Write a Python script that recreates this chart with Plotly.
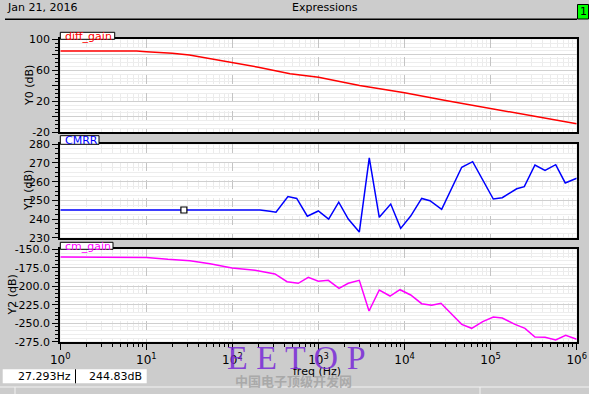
import plotly.graph_objects as go

W, H = 589, 394

# ---------------- data ----------------
diff_freq = [1, 5, 7.7, 10, 20, 31.6, 50, 100, 200, 467, 1000, 3000, 10000, 30000, 100000, 300000, 1000000]
diff_gain = [85, 85, 85, 84, 82, 79.7, 76, 70, 64, 55.6, 51, 40.5, 31, 21, 11, 1.5, -9]

cmrr_freq = [1, 10, 100, 208.9, 272.9, 320.6, 441.6, 558.5, 741.3, 995.4, 1312, 1718, 2218, 2979,
             3890, 5082, 6902, 9016, 11776, 15812, 19724, 26977, 46132, 61802, 107400, 136458,
             200909, 246037, 327341, 428549, 570164, 736207, 1000000]
cmrr = [244.83, 244.83, 244.83, 244.83, 244.2, 243.6, 252, 251, 241.5, 244.3, 239.9, 249, 240, 233,
        272.7, 240.9, 248, 235, 241.6, 251, 249.8, 245.2, 267.7, 270.7, 250.7, 251.4,
        256.2, 257.3, 268.9, 266, 269.1, 259.3, 261.8]

cm_freq = [1, 10, 17.8, 32.1, 54.9, 99, 183, 312, 431, 582, 761, 995, 1300, 1730, 2218, 2979,
           3864, 5082, 6776, 8851, 11776, 15812, 20654, 26485, 46132, 60256, 80910, 107400,
           136458, 191867, 250611, 327341, 428549, 570164, 744732, 1000000]
cm_gain = [-160.4, -161.0, -163.5, -165.4, -169.5, -175.3, -178.4, -183.4, -193.8, -196, -187.9,
           -193.3, -192, -202.8, -196, -192, -233.5, -205.1, -213.2, -204.7, -211.8, -223.6,
           -225.8, -223, -251.5, -256.9, -247.9, -241.6, -243, -251.5, -256.9, -268.7, -269.1,
           -272.7, -266.4, -271.8]

cursor_freq = [27.293]
cursor_val = [244.83]

decades = [1, 10, 100, 1000, 10000, 100000, 1000000]
decade_labels = ["10<sup>0</sup>", "10<sup>1</sup>", "10<sup>2</sup>", "10<sup>3</sup>",
                 "10<sup>4</sup>", "10<sup>5</sup>", "10<sup>6</sup>"]
y0_ticks = [-20, 0, 20, 40, 60, 80, 100]
y0_text = ["-20", " ", "20", " ", "60", " ", "100"]
y1_ticks = [230, 240, 250, 260, 270, 280]
y2_ticks = [-275, -250, -225, -200, -175, -150]
y2_text = ["-275.0", "-250.0", "-225.0", "-200.0", "-175.0", "-150.0"]

# ---------------- helpers ----------------
def px(x):
    return x / W

def py(y):
    return 1 - y / H

minor_vals = [m * d for d in decades[:-1] for m in range(2, 10)]
FONT = "DejaVu Sans"

fig = go.Figure()
fig.add_trace(go.Scatter(x=diff_freq, y=diff_gain, mode="lines",
                         line=dict(color="#ff0000", width=1.5), xaxis="x", yaxis="y"))
fig.add_trace(go.Scatter(x=cmrr_freq, y=cmrr, mode="lines",
                         line=dict(color="#0000ff", width=1.5), xaxis="x2", yaxis="y2"))
fig.add_trace(go.Scatter(x=cursor_freq, y=cursor_val, mode="markers",
                         marker=dict(symbol="square", size=6, color="white",
                                     line=dict(color="black", width=1.2)),
                         xaxis="x2", yaxis="y2"))
fig.add_trace(go.Scatter(x=cm_freq, y=cm_gain, mode="lines",
                         line=dict(color="#ff00ff", width=1.5), xaxis="x3", yaxis="y3"))

xdom = [px(60.3), px(576.7)]
ydoms = [[py(132.3), py(39.3)], [py(237.7), py(144.3)], [py(341.7), py(249.3)]]

def xaxis(dom_y_anchor, show_labels):
    d = dict(
        type="log", range=[0, 6], domain=xdom, anchor=dom_y_anchor, automargin=False,
        tickmode="array", tickvals=decades,
        showticklabels=show_labels,
        ticks="outside" if show_labels else "", ticklen=6, tickcolor="black",
        showgrid=True, gridcolor="#c4c4c4", griddash="dash", gridwidth=1,
        minor=dict(tickmode="array", tickvals=minor_vals, showgrid=True, gridcolor="#ebebeb",
                   ticks="outside" if show_labels else "", ticklen=3, tickcolor="black"),
        showline=True, mirror=True, linecolor="black", linewidth=2,
        tickfont=dict(family=FONT, size=12, color="black"),
        zeroline=False,
    )
    if show_labels:
        d["ticktext"] = decade_labels
    return d

def yaxis(dom, rng, tickvals, ticktext, minor_dtick, anchor):
    return dict(
        domain=dom, range=rng, anchor=anchor, automargin=False,
        tickmode="array", tickvals=tickvals, ticktext=ticktext,
        ticks="outside", ticklen=6, tickcolor="black",
        showgrid=True, gridcolor="#cfcfcf", gridwidth=1,
        minor=dict(dtick=minor_dtick, showgrid=True, gridcolor="#ededed",
                   ticks="outside", ticklen=3, tickcolor="black"),
        showline=True, mirror=True, linecolor="black", linewidth=2,
        tickfont=dict(family=FONT, size=11, color="black"),
        zeroline=False,
    )

fig.update_layout(
    width=W, height=H, margin=dict(l=0, r=0, t=0, b=0, pad=0, autoexpand=False), autosize=False,
    paper_bgcolor="#cccccc", plot_bgcolor="white", showlegend=False,
    xaxis=xaxis("y", False),
    xaxis2=xaxis("y2", False),
    xaxis3=xaxis("y3", True),
    yaxis=yaxis(ydoms[0], [-20, 100], y0_ticks, y0_text, 5, "x"),
    yaxis2=yaxis(ydoms[1], [230, 280], y1_ticks, [str(v) for v in y1_ticks], 2.5, "x2"),
    yaxis3=yaxis(ydoms[2], [-275, -150], y2_ticks, y2_text, 5, "x3"),
)

shapes = []
ann = []

# header
shapes.append(dict(type="line", xref="paper", yref="paper", x0=px(5), x1=px(577), y0=py(19.3), y1=py(19.3),
                   line=dict(color="black", width=1.5)))
ann.append(dict(text="Jan 21, 2016", x=px(5), y=py(8), xref="paper", yref="paper", xanchor="left",
                yanchor="middle", showarrow=False, font=dict(family=FONT, size=11, color="black")))
ann.append(dict(text="Expressions", x=px(324.7), y=py(8), xref="paper", yref="paper", xanchor="center",
                yanchor="middle", showarrow=False, font=dict(family=FONT, size=11, color="black")))
shapes.append(dict(type="rect", xref="paper", yref="paper", x0=px(577.5), x1=px(588.5), y0=py(19), y1=py(4.5),
                   fillcolor="#00ff00", line=dict(color="black", width=1)))
ann.append(dict(text="1", x=px(583), y=py(12), xref="paper", yref="paper", xanchor="center",
                yanchor="middle", showarrow=False, font=dict(family=FONT, size=11, color="black")))

# tabs
tabs = [("diff_gain", "#ff0000", 114.7, 32.3, 39.3),
        ("CMRR", "#0000ff", 99, 135.7, 144.3),
        ("cm_gain", "#ff00ff", 113, 242.3, 249.3)]
for name, col, xr, yt, yb in tabs:
    shapes.append(dict(type="rect", xref="paper", yref="paper", x0=px(60.3), x1=px(xr), y0=py(yb), y1=py(yt),
                       fillcolor="white", line=dict(color="black", width=1)))
    ann.append(dict(text=name, x=px(63), y=py((yt + yb) / 2 + 0.5), xref="paper", yref="paper",
                    xanchor="left", yanchor="middle", showarrow=False,
                    font=dict(family=FONT, size=11, color=col)))

# y axis titles
for t, xx, yy in [("Y0 (dB)", 29, 86), ("Y1 (dB)", 28, 191), ("Y2 (dB)", 12, 295.5)]:
    ann.append(dict(text=t, x=px(xx), y=py(yy), xref="paper", yref="paper", textangle=-90,
                    xanchor="center", yanchor="middle", showarrow=False,
                    font=dict(family=FONT, size=11, color="black")))

# x axis title
ann.append(dict(text="freq (Hz)", x=px(316.7), y=py(371), xref="paper", yref="paper",
                xanchor="center", yanchor="middle", showarrow=False,
                font=dict(family=FONT, size=11, color="black")))

# readout boxes
shapes.append(dict(type="rect", xref="paper", yref="paper", x0=px(2.7), x1=px(146.7), y0=py(383.3), y1=py(369.3),
                   fillcolor="white", line=dict(color="white", width=0)))
shapes.append(dict(type="line", xref="paper", yref="paper", x0=px(75.5), x1=px(75.5), y0=py(383.3), y1=py(369.3),
                   line=dict(color="black", width=1)))
ann.append(dict(text="27.293Hz", x=px(73), y=py(376.5), xref="paper", yref="paper", xanchor="right",
                yanchor="middle", showarrow=False, font=dict(family=FONT, size=11, color="black")))
ann.append(dict(text="244.83dB", x=px(144), y=py(376.5), xref="paper", yref="paper", xanchor="right",
                yanchor="middle", showarrow=False, font=dict(family=FONT, size=11, color="black")))

# status bar lines
shapes.append(dict(type="line", xref="paper", yref="paper", x0=0, x1=1, y0=py(387), y1=py(387),
                   line=dict(color="#f2f2f2", width=1)))
for xs in [15, 480]:
    shapes.append(dict(type="line", xref="paper", yref="paper", x0=px(xs), x1=px(xs), y0=0, y1=py(387),
                       line=dict(color="#f2f2f2", width=1)))

# watermark
ann.append(dict(text="E E T O P", x=px(296), y=py(357), xref="paper", yref="paper", xanchor="center",
                yanchor="middle", showarrow=False,
                font=dict(family="Liberation Serif", size=34, color="rgba(120,40,215,0.85)")))
ann.append(dict(text="<b>中国电子顶级开发网</b>", x=px(293), y=py(380), xref="paper", yref="paper",
                xanchor="center", yanchor="middle", showarrow=False,
                font=dict(family="Noto Sans CJK SC", size=13, color="rgba(160,160,160,0.8)")))

fig.update_layout(shapes=shapes, annotations=ann)
fig.write_html("out.html", config={"displayModeBar": False},
               post_script="document.body.style.margin='0';document.body.style.overflow='hidden';")
